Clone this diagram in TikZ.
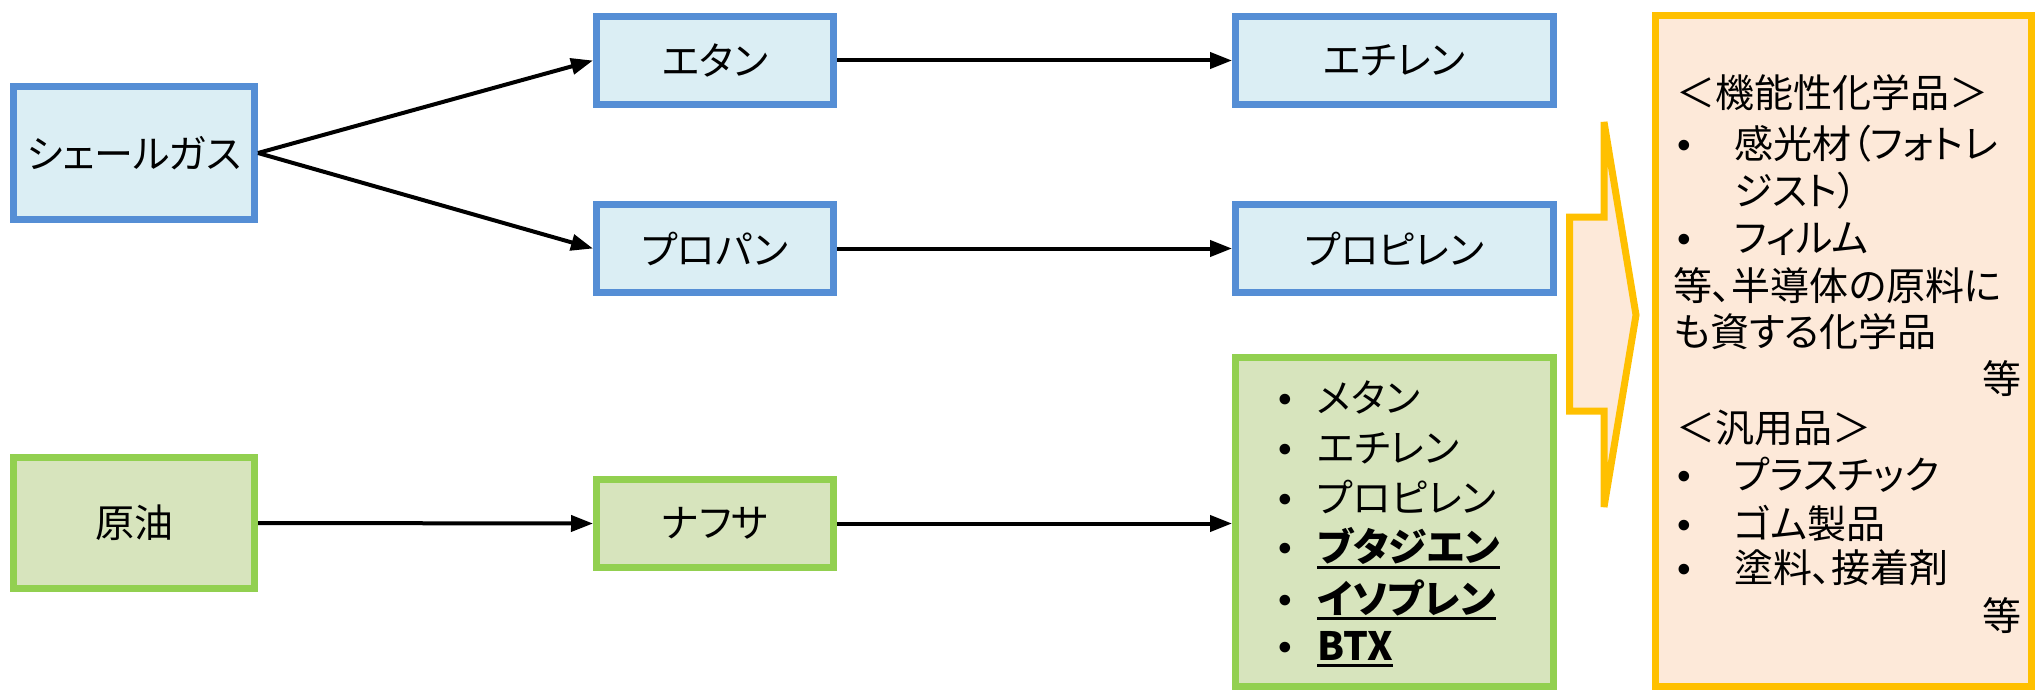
\documentclass[tikz,border=0pt]{standalone}
\usepackage{fontspec}
\setmainfont{Noto Sans CJK JP}[RawFeature=+palt]
\newfontfamily\bulletfont{Liberation Sans}
\usetikzlibrary{arrows.meta}
\definecolor{bluebd}{HTML}{558ED5}
\definecolor{bluefill}{HTML}{DBEEF4}
\definecolor{greenbd}{HTML}{92D050}
\definecolor{greenfill}{HTML}{D7E4BD}
\definecolor{orangebd}{HTML}{FFC000}
\definecolor{orangefill}{HTML}{FDE9D9}
\newcommand\ulbold[1]{\setbox0\hbox{\bfseries #1}\rlap{\rule[-7pt]{\wd0}{3pt}}\box0}
\newcommand\bul[1]{\makebox[#1][l]{\bulletfont •}}
\begin{document}
\begin{tikzpicture}[x=1pt,y=-1pt,
  box/.style={draw, line width=7pt, inner sep=0pt, font=\fontsize{39}{46}\selectfont, align=center},
  bluebox/.style={box, draw=bluebd, fill=bluefill},
  greenbox/.style={box, draw=greenbd, fill=greenfill},
  orangebox/.style={box, draw=orangebd, fill=orangefill},
  conn/.style={line width=4pt, -{Triangle[length=22pt,width=16pt]}},
  txt/.style={inner sep=0pt, anchor=west, font=\fontsize{39}{46}\selectfont},
  txtr/.style={txt, anchor=east},
]
\useasboundingbox (0,0) rectangle (2035,690);
% left column
\node[bluebox, minimum width=241pt, minimum height=133pt] (sg) at (134,153) {シェールガス};
\node[greenbox, minimum width=241pt, minimum height=131pt] (oil) at (134,523) {原油};
% middle column
\node[bluebox, minimum width=237pt, minimum height=88pt] (etan) at (715,60.5) {エタン};
\node[bluebox, minimum width=237pt, minimum height=88pt] (propan) at (715,248.5) {プロパン};
\node[greenbox, minimum width=237pt, minimum height=88pt] (naph) at (715,523.5) {ナフサ};
% right column
\node[bluebox, minimum width=318pt, minimum height=88pt] (ethy) at (1394.5,60.5) {エチレン};
\node[bluebox, minimum width=318pt, minimum height=88pt] (propy) at (1394.5,248.5) {プロピレン};
\node[greenbox, minimum width=318pt, minimum height=329pt] (list) at (1394.5,522) {};
% list items
\node[txt] (g1) at (1278,397) {\bul{39pt}メタン};
\node[txt] (g2) at (1278,448) {\bul{39pt}エチレン};
\node[txt] (g3) at (1278,497) {\bul{39pt}プロピレン};
\node[txt] (g4) at (1278,548) {\bul{39pt}\ulbold{ブタジエン}};
\node[txt] (g5) at (1278,600) {\bul{39pt}\ulbold{イソプレン}};
\node[txt] (g6) at (1278,649) {\bul{39pt}\ulbold{BTX}};
% connectors
\draw[conn] (sg.east) -- (etan.west);
\draw[conn] (sg.east) -- (propan.west);
\draw[conn] (etan.east) -- (ethy.west);
\draw[conn] (propan.east) -- (propy.west);
\draw[conn] (oil.east) -- (naph.west);
\draw[conn] (naph.east) -- (naph.east -| list.west);
% big yellow arrow
\draw[line width=7pt, draw=orangebd, fill=orangefill, miter limit=2]
  (1569.5,217) -- (1604,217) -- (1604,122) -- (1636,315) -- (1604,507) -- (1604,411) -- (1569.5,411) -- cycle;
% orange box
\node[orangebox, minimum width=376pt, minimum height=671pt] (app) at (1843.5,351) {};
\node[txt] (o1) at (1676,93) {＜機能性化学品＞};
\node[txt] (o2) at (1677,144) {\bul{57pt}感光材（フォトレ};
\node[txt] (o3) at (1734,191) {ジスト）};
\node[txt] (o4) at (1677,239) {\bul{57pt}フィルム};
\node[txt] (o5) at (1673,286) {等、半導体の原料に};
\node[txt] (o6) at (1673,332) {も資する化学品};
\node[txtr] (o7) at (2022,379) {等};
\node[txt] (o8) at (1676,428) {＜汎用品＞};
\node[txt] (o9) at (1677,475) {\bul{57pt}プラスチック};
\node[txt] (o10) at (1677,523) {\bul{57pt}ゴム製品};
\node[txt] (o11) at (1677,568) {\bul{57pt}塗料、接着剤};
\node[txtr] (o12) at (2022,616) {等};
\end{tikzpicture}
\end{document}
